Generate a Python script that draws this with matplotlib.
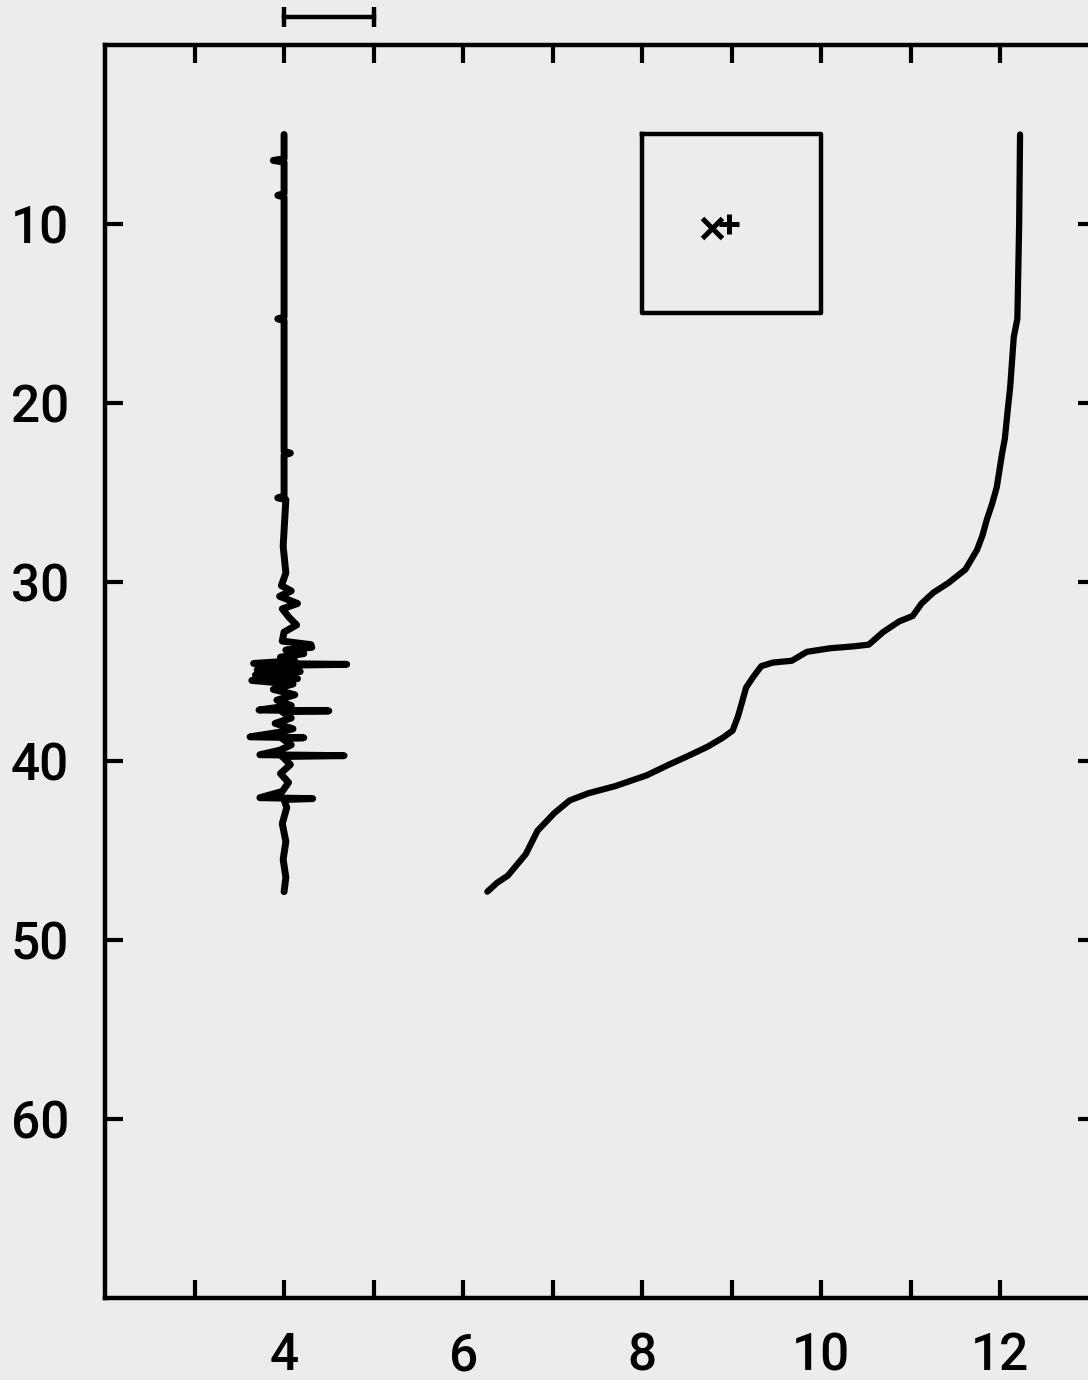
import numpy as np
import matplotlib
matplotlib.use("Agg")
import matplotlib.pyplot as plt

# noisy trace near x=4 (depth, value)
trace_depth = [5.0, 6.35, 6.45, 6.55, 8.3, 8.4, 8.5, 12.0, 15.2, 15.3, 15.4, 19.0,
               22.7, 22.8, 22.9, 25.2, 25.3, 25.4, 28.0, 29.5, 30.2, 30.5, 30.8,
               31.2, 31.5, 32.0, 32.4, 32.8, 33.3, 33.5, 33.65, 33.8, 34.0, 34.2,
               34.4, 34.55, 34.6, 34.65, 34.9, 35.0, 35.2, 35.4, 35.5, 35.7, 36.0,
               36.3, 36.6, 36.9, 37.15, 37.2, 37.25, 37.6, 37.9, 38.2, 38.4, 38.65,
               38.7, 38.75, 39.1, 39.4, 39.65, 39.7, 39.75, 40.2, 40.7, 41.2, 41.7,
               42.05, 42.1, 42.15, 42.6, 43.5, 44.5, 45.5, 46.5, 47.3]
trace_x = [4.00, 4.00, 3.88, 4.00, 4.00, 3.93, 4.00, 4.00, 4.00, 3.93, 4.00, 4.00,
           4.00, 4.07, 4.00, 4.00, 3.93, 4.02, 3.99, 4.02, 3.97, 4.08, 3.95,
           4.15, 3.98, 4.06, 4.14, 4.00, 3.98, 4.30, 4.31, 4.02, 4.22, 3.96,
           4.12, 3.66, 4.70, 4.00, 3.70, 4.18, 3.68, 4.15, 3.64, 4.10, 3.88,
           4.12, 3.92, 4.08, 3.72, 4.50, 3.98, 4.08, 3.90, 4.10, 3.94, 3.62,
           4.22, 3.98, 4.08, 3.95, 3.73, 4.67, 3.98, 4.07, 3.96, 4.05, 3.98,
           3.73, 4.32, 4.00, 4.03, 3.98, 4.02, 3.99, 4.02, 4.00]

# profile curve on the right (depth, value)
curve_depth = [5.0, 10.0, 15.3, 16.3, 19.1, 20.5, 22.0, 22.8, 24.7, 25.6, 26.5,
               27.4, 28.2, 29.3, 30.05, 30.6, 31.2, 31.9, 32.2, 32.8, 33.5, 33.6,
               33.7, 33.9, 34.4, 34.5, 34.7, 35.3, 35.9, 36.8, 37.5, 38.3, 38.7,
               39.2, 39.7, 40.2, 40.8, 41.4, 41.8, 42.2, 42.9, 43.9, 45.2, 46.4,
               46.8, 47.3]
curve_x = [12.22, 12.21, 12.19, 12.15, 12.11, 12.08, 12.05, 12.02, 11.96, 11.91,
           11.85, 11.80, 11.74, 11.61, 11.42, 11.25, 11.12, 11.02, 10.87, 10.69,
           10.53, 10.35, 10.10, 9.84, 9.67, 9.46, 9.33, 9.24, 9.16, 9.11, 9.07,
           9.01, 8.90, 8.73, 8.52, 8.30, 8.05, 7.70, 7.40, 7.19, 7.02, 6.83,
           6.70, 6.50, 6.38, 6.27]

# inset box and markers
box_x = [8, 10, 10, 8, 8]
box_y = [5, 5, 15, 15, 5]
mark_x = (8.78, 10.24)
mark_plus = (8.97, 10.0)

# scale bar above the frame
bar_x = [4, 5]
bar_y = -1.57

xticks = list(range(3, 13))
xlabels = [str(t) if t % 2 == 0 else "" for t in xticks]
yticks = [10, 20, 30, 40, 50, 60]

bg = "#ececec"
fig = plt.figure(figsize=(10.88, 13.8), dpi=100, facecolor=bg)
ax = fig.add_axes([0.0965, 0.0594, 0.911, 0.908], facecolor=bg)

ax.plot(trace_x, trace_depth, color="black", lw=5, solid_capstyle="round",
        solid_joinstyle="round")
ax.plot(curve_x, curve_depth, color="black", lw=4.5, solid_capstyle="round",
        solid_joinstyle="round")
ax.plot(box_x, box_y, color="black", lw=3.2)
ax.plot(*mark_x, marker="x", color="black", ms=14, mew=3.6)
ax.plot(*mark_plus, marker="+", color="black", ms=14, mew=3.6)

ax.plot(bar_x, [bar_y, bar_y], color="black", lw=3.2, clip_on=False)
ax.plot(bar_x, [bar_y, bar_y], ls="none", marker="|", ms=14, mew=3.2,
        color="black", clip_on=False)

ax.set_xlim(2, 13.07)
ax.set_ylim(70, 0)

ax.set_xticks(xticks)
ax.set_xticklabels(xlabels)
ax.set_yticks(yticks)
ax.set_yticklabels([str(t) for t in yticks])

ax.tick_params(axis="both", direction="in", length=13, width=3,
               top=True, right=True, labelsize=37, color="black")
ax.tick_params(axis="x", pad=24)
ax.tick_params(axis="y", pad=26)
for lab in ax.get_xticklabels() + ax.get_yticklabels():
    lab.set_family("Roboto")
    lab.set_fontweight("medium")

for s in ax.spines.values():
    s.set_linewidth(3.2)

fig.savefig("out.png", dpi=100, facecolor=bg)
